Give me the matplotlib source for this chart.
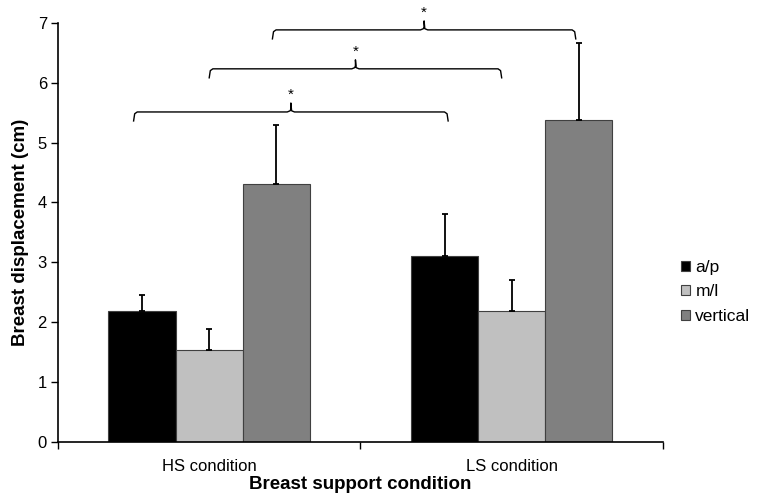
import matplotlib
matplotlib.use('Agg')
import matplotlib.pyplot as plt
import numpy as np

plt.rcParams['font.family'] = ['Liberation Sans', 'DejaVu Sans']

# data
groups = ['HS condition', 'LS condition']
series = ['a/p', 'm/l', 'vertical']
means = {'a/p': [2.18, 3.10], 'm/l': [1.54, 2.18], 'vertical': [4.30, 5.38]}
errs = {'a/p': [0.27, 0.70], 'm/l': [0.35, 0.52], 'vertical': [1.00, 1.28]}
colors = ['#000000', '#c0c0c0', '#808080']

# significance brackets: left x, right x, height
brackets = [(-0.25, 0.79, 5.51), (0.0, 0.967, 6.23), (0.209, 1.212, 6.88)]

fig = plt.figure(figsize=(7.58, 4.98), dpi=100)
ax = fig.add_axes([0.0765, 0.1124, 0.798, 0.842])

x = np.arange(len(groups))
w = 0.222
for i, s in enumerate(series):
    pos = x + (i - 1) * w
    ax.bar(pos, means[s], w, color=colors[i], edgecolor='#404040', linewidth=0.8,
           label=s, zorder=2)
    ax.errorbar(pos, means[s], yerr=[np.zeros(len(groups)), errs[s]], fmt='none',
                ecolor='black', elinewidth=1.3, capsize=2, capthick=1.3, zorder=3)

for (x0, x1, y) in brackets:
    xm = (x0 + x1) / 2
    d = 0.012
    xs = [x0, x0 + d * 0.3, x0 + d, xm - d, xm - d * 0.2, xm, xm, xm + d * 0.2, xm + d,
          x1 - d, x1 - d * 0.3, x1]
    ys = [y - 0.15, y - 0.03, y, y, y + 0.02, y + 0.05, y + 0.15, y + 0.02, y, y,
          y - 0.03, y - 0.15]
    ax.plot(xs, ys, color='black', lw=1.0, clip_on=False, zorder=4)
    ax.text(xm, y + 0.17, '*', ha='center', va='bottom', fontsize=11, clip_on=False)

ax.set_xlim(-0.5, 1.5)
ax.set_ylim(0, 7)
ax.set_yticks(range(8))
ax.set_xticks(x)
ax.set_xticklabels(groups)
ax.set_xticks([-0.5, 0.5, 1.5], minor=True)
ax.tick_params(axis='x', which='major', length=0, pad=12, labelsize=12)
ax.tick_params(axis='x', which='minor', length=5, width=1, direction='out')
ax.tick_params(axis='y', length=5, width=1, direction='out', labelsize=12, pad=3)
for side in ['top', 'right']:
    ax.spines[side].set_visible(False)
for side in ['left', 'bottom']:
    ax.spines[side].set_linewidth(1.2)

ax.set_xlabel('Breast support condition', fontsize=13.5, fontweight='bold', labelpad=2)
ax.set_ylabel('Breast displacement (cm)', fontsize=13.5, fontweight='bold', labelpad=6)

fig.legend(loc='center left', bbox_to_anchor=(0.899, 0.414), frameon=False,
           fontsize=12.5, handlelength=0.5, handleheight=0.5, handletextpad=0.3,
           labelspacing=0.55, borderaxespad=0, borderpad=0)

fig.savefig('out.png', dpi=100)
